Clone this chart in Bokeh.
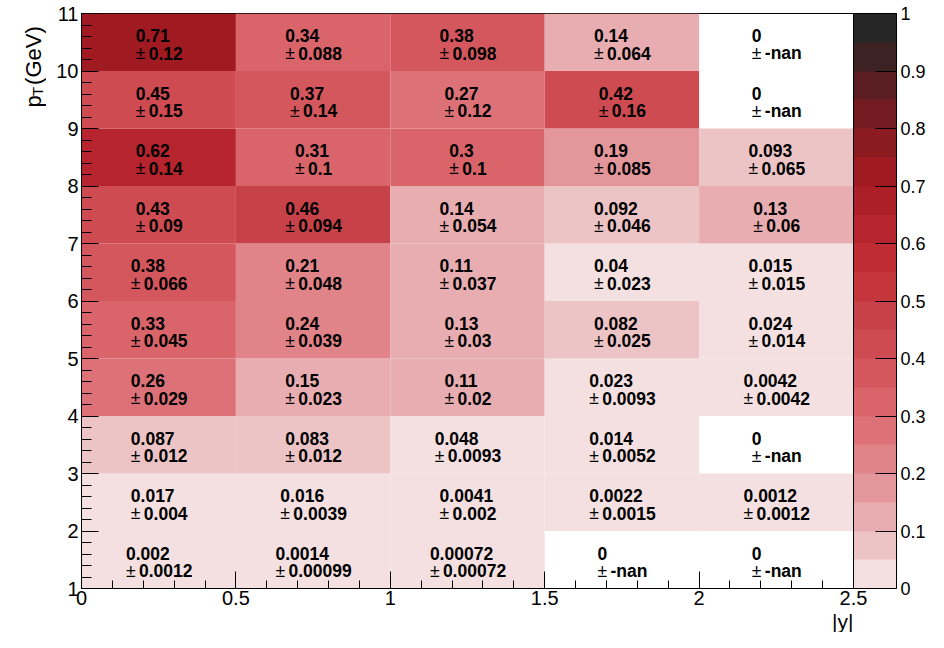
import math
from bokeh.plotting import figure
from bokeh.layouts import row
from bokeh.models import (ColumnDataSource, LinearColorMapper, ColorBar, FixedTicker,
                          CustomJSTickFormatter, Title)
from bokeh.core.properties import value
from bokeh.embed import file_html
from bokeh.resources import INLINE

nan = float("nan")

# bin edges
abs_y_edges = [0.0, 0.5, 1.0, 1.5, 2.0, 2.5]
pt_edges = [1, 2, 3, 4, 5, 6, 7, 8, 9, 10, 11]

# efficiency and its uncertainty per pT bin (one entry per |y| bin)
eff_pt_1_2 = [0.002, 0.0014, 0.00072, 0.0, 0.0]
err_pt_1_2 = [0.0012, 0.00099, 0.00072, nan, nan]
eff_pt_2_3 = [0.017, 0.016, 0.0041, 0.0022, 0.0012]
err_pt_2_3 = [0.004, 0.0039, 0.002, 0.0015, 0.0012]
eff_pt_3_4 = [0.087, 0.083, 0.048, 0.014, 0.0]
err_pt_3_4 = [0.012, 0.012, 0.0093, 0.0052, nan]
eff_pt_4_5 = [0.26, 0.149, 0.11, 0.023, 0.0042]
err_pt_4_5 = [0.029, 0.023, 0.02, 0.0093, 0.0042]
eff_pt_5_6 = [0.33, 0.24, 0.13, 0.082, 0.024]
err_pt_5_6 = [0.045, 0.039, 0.03, 0.025, 0.014]
eff_pt_6_7 = [0.38, 0.21, 0.11, 0.04, 0.015]
err_pt_6_7 = [0.066, 0.048, 0.037, 0.023, 0.015]
eff_pt_7_8 = [0.43, 0.46, 0.14, 0.092, 0.13]
err_pt_7_8 = [0.09, 0.094, 0.054, 0.046, 0.06]
eff_pt_8_9 = [0.62, 0.31, 0.30, 0.19, 0.093]
err_pt_8_9 = [0.14, 0.1, 0.1, 0.085, 0.065]
eff_pt_9_10 = [0.449, 0.37, 0.27, 0.42, 0.0]
err_pt_9_10 = [0.15, 0.14, 0.12, 0.16, nan]
eff_pt_10_11 = [0.71, 0.34, 0.38, 0.14, 0.0]
err_pt_10_11 = [0.12, 0.088, 0.098, 0.064, nan]

x_ticks = [0, 0.5, 1, 1.5, 2, 2.5]
y_ticks = [1, 2, 3, 4, 5, 6, 7, 8, 9, 10, 11]
z_ticks = [0, 0.1, 0.2, 0.3, 0.4, 0.5, 0.6, 0.7, 0.8, 0.9, 1]

palette = ["#F4E0E1", "#EDC4C6", "#E8ADB0", "#E4979B", "#E08489",
           "#DC7278", "#D9646A", "#D4575E", "#CD4B51", "#C64248",
           "#C4363C", "#BF2C34", "#B6242D", "#AC1F27", "#A01A22",
           "#8B1B21", "#731B20", "#5A1E22", "#3D2224", "#262626"]

eff_rows = [eff_pt_1_2, eff_pt_2_3, eff_pt_3_4, eff_pt_4_5, eff_pt_5_6,
            eff_pt_6_7, eff_pt_7_8, eff_pt_8_9, eff_pt_9_10, eff_pt_10_11]
err_rows = [err_pt_1_2, err_pt_2_3, err_pt_3_4, err_pt_4_5, err_pt_5_6,
            err_pt_6_7, err_pt_7_8, err_pt_8_9, err_pt_9_10, err_pt_10_11]

FONT = "Liberation Sans"
FS = 17.5          # cell text size (px)
PM_ADV = 13.0      # advance of "±" incl. gap (px)
CW = {".": 0.278, "-": 0.333, "n": 0.611, "a": 0.556}


def tw(s):
    return sum(CW.get(c, 0.556) for c in s) * FS


def fmt(v):
    return "-nan" if math.isnan(v) else f"{v:.2g}"


ncol = len(abs_y_edges) - 1
nz = len(palette)

fill = dict(left=[], right=[], bottom=[], top=[], color=[])
txt = dict(xc=[], yc=[], vt=[], et=[], pm=[], xo=[], xe=[])
for j, (erow, srow) in enumerate(zip(eff_rows, err_rows)):
    for i in range(ncol):
        v, e = erow[i], srow[i]
        xl, xr = abs_y_edges[i], abs_y_edges[i + 1]
        yb, yt = pt_edges[j], pt_edges[j + 1]
        if v > 0:
            fill["left"].append(xl); fill["right"].append(xr)
            fill["bottom"].append(yb); fill["top"].append(yt)
            fill["color"].append(palette[min(int(0.01 + v * nz), nz - 1)])
        vt, et = fmt(v), fmt(e)
        bw = max(tw(vt), PM_ADV + tw(et))
        xo = -bw / 2 + 0.5
        txt["xc"].append((xl + xr) / 2); txt["yc"].append((yb + yt) / 2)
        txt["vt"].append(vt); txt["et"].append(et); txt["pm"].append("\u00b1")
        txt["xo"].append(xo); txt["xe"].append(xo + PM_ADV)

# ---------------- main plot ----------------
STRIP_W = 46
W, H = 928, 632
p = figure(width=W - STRIP_W, height=H, x_range=(0, 2.5), y_range=(1, 11),
           output_backend="svg", toolbar_location=None,
           min_border_left=81 - STRIP_W, min_border_right=0, min_border_top=13,
           min_border_bottom=0)
p.background_fill_color = "white"
p.border_fill_color = "white"
p.outline_line_color = "black"
p.outline_line_width = 1
p.xgrid.visible = False
p.ygrid.visible = False

tickfmt = CustomJSTickFormatter(code="return String(Number(tick.toFixed(3)));")

minor_x = [round(0.1 * k, 1) for k in range(0, 26)]
minor_y = [round(1 + 0.2 * k, 1) for k in range(0, 51)]
p.xaxis.ticker = FixedTicker(ticks=x_ticks, minor_ticks=minor_x)
p.yaxis.ticker = FixedTicker(ticks=y_ticks, minor_ticks=minor_y)
p.xaxis.formatter = tickfmt

for ax, maj, mnr in ((p.xaxis, 17, 8), (p.yaxis, 17, 10)):
    ax.major_tick_in = maj
    ax.major_tick_out = 0
    ax.minor_tick_in = mnr
    ax.minor_tick_out = 0
    ax.axis_line_color = "black"
    ax.major_tick_line_color = "black"
    ax.minor_tick_line_color = "black"
    ax.major_label_text_font = FONT
    ax.major_label_text_font_size = "20px"
    ax.major_label_text_color = "black"
p.xaxis.major_label_standoff = 2
p.yaxis.major_label_standoff = 3

src_fill = ColumnDataSource(fill)
p.quad(left="left", right="right", bottom="bottom", top="top", fill_color="color",
       line_color=None, source=src_fill)

src_txt = ColumnDataSource(txt)
common = dict(x="xc", y="yc", source=src_txt, text_color="black", text_align="left",
              text_baseline="alphabetic", text_font_size=f"{FS}px",
              text_font=value(FONT))
L1, L2 = -6.5, 11.0
p.text(text="vt", x_offset="xo", y_offset=L1, text_font_style="bold", **common)
p.text(text="pm", x_offset="xo", y_offset=L2, text_font_style="normal", **common)
p.text(text="et", x_offset="xe", y_offset=L2, text_font_style="bold", **common)

mapper = LinearColorMapper(palette=palette, low=0, high=1)
cb = ColorBar(color_mapper=mapper, ticker=FixedTicker(ticks=z_ticks, minor_ticks=[]),
              formatter=tickfmt, width=43, padding=0, margin=0,
              major_tick_in=21, major_tick_out=0, major_tick_line_color="black",
              minor_tick_line_color=None, label_standoff=4,
              major_label_text_font=FONT,
              major_label_text_font_size="18px", major_label_text_color="black",
              bar_line_color="black", border_line_color=None, background_fill_color=None)
p.add_layout(cb, "right")

p.add_layout(Title(text="|y|", align="right", text_font=FONT, text_font_size="21px",
                   text_font_style="normal", text_color="black", standoff=0,
                   offset=0), "below")

# ---------------- y-axis title strip ----------------
TS = 22
t = figure(width=STRIP_W, height=H, x_range=(0, STRIP_W), y_range=(0, H),
           output_backend="svg", toolbar_location=None,
           x_axis_location=None, y_axis_location=None, min_border=0)
t.outline_line_color = None
t.background_fill_color = "white"
t.border_fill_color = "white"
t.xgrid.visible = False
t.ygrid.visible = False

len_gev = 2.667 * TS
len_t = 0.611 * 15
top_gap = 14
gap = 8
base_x = 33
t.text(x=[base_x], y=[H - top_gap], text=["(GeV)"], angle=math.pi / 2,
       text_align="right", text_baseline="alphabetic", text_font=value(FONT),
       text_font_size=f"{TS}px", text_color="black")
t.text(x=[base_x + 4], y=[H - top_gap - len_gev - gap], text=["T"], angle=math.pi / 2,
       text_align="right", text_baseline="alphabetic", text_font=value(FONT),
       text_font_size="15px", text_color="black")
t.text(x=[base_x], y=[H - top_gap - len_gev - gap - len_t], text=["p"], angle=math.pi / 2,
       text_align="right", text_baseline="alphabetic", text_font=value(FONT),
       text_font_size=f"{TS}px", text_color="black")

layout = row(t, p, spacing=0)
open("out.html", "w").write(file_html(layout, INLINE, title="efficiency"))
